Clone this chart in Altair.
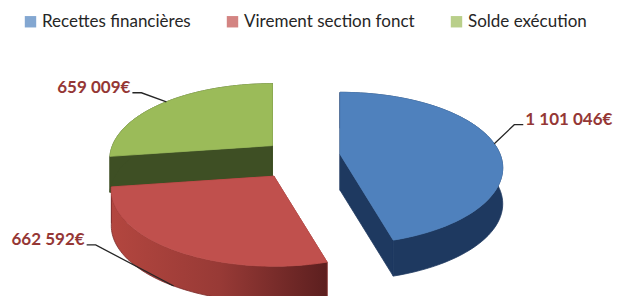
import math
import altair as alt
import pandas as pd

# ---- data ----
categories = ["Recettes financières", "Virement section fonct", "Solde exécution"]
values = [1101046, 662592, 659009]
value_labels = ["1 101 046€", "662 592€", "659 009€"]

# ---- styles ----
TOP = ["#4f81bd", "#c0504d", "#9bbb59"]
SIDE = ["#1e3960", "#8e3431", "#3e4f24"]
LABEL_COLOR = "#953735"

# ---- layout of the pseudo-3D pie (pixels) ----
OX, OY = 300, 157
RX, RY, PERSP, DEPTH, EXPLODE = 160, 76, 0.185, 36, 0.26
N = 72
# leader-line elbow offsets and side for each slice
LEADER = [((20, -19), 1), ((-78, -41), -1), ((-25, -9), -1)]


def proj(theta, r, cx, cy):
    t = math.radians(theta)
    u, v = math.sin(t), -math.cos(t)
    s = 1 + PERSP * v
    return cx + r * RX * u * s, cy + r * RY * v * s, v


total = float(sum(values))
spans = []
start = 0.0
for val in values:
    end = start + 360.0 * val / total
    spans.append((start, end))
    start = end

rows = []
styles = []  # (pid, fill, stroke)
leader_rows = []
label_rows = []


def add_poly(pid, pts):
    for i, (x, y) in enumerate(pts):
        rows.append({"pid": pid, "i": i, "x": x, "y": y})


pid = 0
draw_order = [2, 0, 1]
for s in draw_order:
    a0, a1 = spans[s]
    mid = (a0 + a1) / 2
    cx, cy, _ = proj(mid, EXPLODE, OX, OY)
    arc = []
    for j in range(N + 1):
        th = a0 + (a1 - a0) * j / N
        x, y, _ = proj(th, 1, cx, cy)
        arc.append((x, y))
    low = [(x, y + DEPTH) for x, y in arc]
    p0, p1 = arc[0], arc[-1]
    cut_a = [(cx, cy), p0, (p0[0], p0[1] + DEPTH), (cx, cy + DEPTH), (cx, cy)]
    cut_b = [(cx, cy), p1, (p1[0], p1[1] + DEPTH), (cx, cy + DEPTH), (cx, cy)]
    wall = arc + low[::-1] + [arc[0]]
    top = [(cx, cy)] + arc + [(cx, cy)]

    for poly, kind in [(cut_a, "cut"), (cut_b, "cut"), (wall, "wall"), (top, "top")]:
        add_poly(pid, poly)
        if kind == "top":
            styles.append((pid, TOP[s], TOP[s]))
        elif kind == "wall" and s == 1:
            grad = alt.LinearGradient(
                gradient="linear",
                stops=[
                    alt.GradientStop(color="#b3463f", offset=0),
                    alt.GradientStop(color="#983a36", offset=0.5),
                    alt.GradientStop(color="#5c1f1f", offset=1),
                ],
                x1=0, x2=1, y1=0, y2=0,
            )
            styles.append((pid, grad, "#7a2b29"))
        else:
            styles.append((pid, SIDE[s], SIDE[s]))
        pid += 1

    # leader line + label
    ax, ay, v = proj(mid, 1, cx, cy)
    if v > 0:
        ay += DEPTH
    (ox, oy), side = LEADER[s]
    ex, ey = ax + ox, ay + oy
    fx, fy = ex + side * 9, ey
    for i, (x, y) in enumerate([(ax, ay), (ex, ey), (fx, fy)]):
        leader_rows.append({"slice": s, "i": i, "x": x, "y": y})
    label_rows.append({"x": fx + side * 2, "y": fy - 5, "text": value_labels[s],
                       "side": "right" if side > 0 else "left"})

poly_df = pd.DataFrame(rows)
leader_df = pd.DataFrame(leader_rows)
label_df = pd.DataFrame(label_rows)
legend_df = pd.DataFrame({"cat": categories, "x": [430] * 3, "y": [170] * 3})

X = alt.X("x:Q", scale=alt.Scale(domain=[8, 619], nice=False, zero=False), axis=None)
Y = alt.Y("y:Q", scale=alt.Scale(domain=[8, 296], nice=False, zero=False, reverse=True), axis=None)

layers = []
# legend carrier (hidden under the blue slice)
layers.append(
    alt.Chart(legend_df).mark_square(size=130, filled=True).encode(
        x=X, y=Y,
        color=alt.Color(
            "cat:N",
            scale=alt.Scale(domain=categories, range=TOP),
            sort=categories,
            legend=alt.Legend(
                title=None, orient="none", legendX=14, legendY=5,
                direction="horizontal", symbolType="square", symbolSize=130,
                symbolStrokeWidth=0, labelFont="Lato", labelFontSize=17,
                labelColor="#262626", labelOffset=3, columnPadding=33,
                labelLimit=300,
            ),
        ),
    )
)

for p, fill, stroke in styles:
    layers.append(
        alt.Chart(poly_df)
        .transform_filter(alt.datum.pid == p)
        .mark_line(fill=fill, stroke=stroke, strokeWidth=0.8)
        .encode(x=X, y=Y, order="i:Q")
    )

layers.append(
    alt.Chart(leader_df).mark_line(stroke="#262626", strokeWidth=1.3).encode(
        x=X, y=Y, detail="slice:N", order="i:Q"
    )
)
layers.append(
    alt.Chart(label_df).transform_filter(alt.datum.side == "left")
    .mark_text(align="right", baseline="middle", font="Lato", fontSize=17,
               fontWeight="bold", color=LABEL_COLOR)
    .encode(x=X, y=Y, text="text:N")
)
layers.append(
    alt.Chart(label_df).transform_filter(alt.datum.side == "right")
    .mark_text(align="left", baseline="middle", font="Lato", fontSize=17,
               fontWeight="bold", color=LABEL_COLOR)
    .encode(x=X, y=Y, text="text:N")
)

chart = (
    alt.layer(*layers)
    .properties(width=611, height=288, padding=0,
                autosize=alt.AutoSizeParams(type="none"), background="white")
    .configure_view(stroke=None)
)

chart.save("out.html", embed_options={"renderer": "svg", "actions": False})
